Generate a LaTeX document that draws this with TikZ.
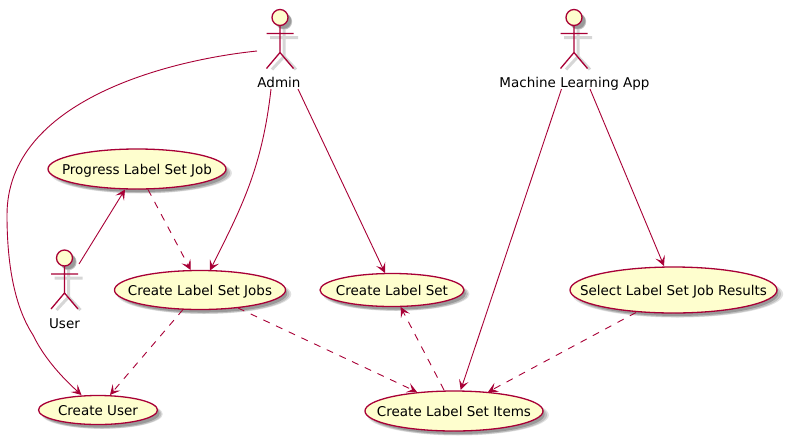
\documentclass[tikz,border=0pt]{standalone}
\usepackage{fontspec}
\setmainfont{DejaVu Sans}
\usetikzlibrary{shapes.geometric,arrows.meta,shadows}
\definecolor{umlline}{HTML}{A80036}
\definecolor{umlfill}{HTML}{FEFECE}
\tikzset{
  softshadow/.style={
    general shadow={shadow xshift=4pt,shadow yshift=-4pt,shadow scale=1.02,fill=black,opacity=.12},
    general shadow={shadow xshift=4pt,shadow yshift=-4pt,shadow scale=1.0,fill=black,opacity=.15},
    general shadow={shadow xshift=3.5pt,shadow yshift=-3.5pt,shadow scale=.98,fill=black,opacity=.2}},
  usetext/.style={font=\fontsize{13.5}{15}\selectfont,text=black,inner sep=0pt,text height=13pt,text depth=3pt},
  usecase/.style={shape=ellipse,draw=umlline,fill=umlfill,line width=1.3pt,inner sep=0pt,softshadow},
  actorlabel/.style={usetext},
  head/.style={shape=circle,draw=umlline,fill=umlfill,line width=1.3pt,minimum size=16pt,inner sep=0pt,softshadow},
  edge/.style={draw=umlline,line width=.9pt,-{Stealth[length=10pt,width=10pt,inset=4.5pt,umlline]}},
  dashedge/.style={edge,dash pattern=on 7pt off 7pt},
  stick/.style={draw=umlline,line width=1.3pt},
  stickshadow/.style={draw=black!16,line width=3pt},
  actor/.pic={
    \draw[stickshadow] (-10,20) -- (18,20) (4,12) -- (4,39) -- (-8,52) (4,39) -- (16,52);
    \node[head] (-head) at (0,0) {};
    \draw[stick] (-13.5,16) -- (13.5,16) (0,8) -- (0,35) (-13.5,51) -- (0,35) -- (13.5,51);
  }
}
\begin{document}
\begin{tikzpicture}[x=1pt,y=-1pt]
\useasboundingbox (0,0) rectangle (787,440);
\pic (admin) at (280,17.5) {actor};
\pic (usr) at (64.5,258) {actor};
\pic (ml) at (574,17.5) {actor};
\node[actorlabel] (adminlabel) at (279,82) {Admin};
\node[actorlabel] (userlabel) at (64.5,323) {User};
\node[actorlabel] (mllabel) at (574.5,82) {Machine Learning App};
\node[usecase,minimum width=178pt,minimum height=40pt,label={[usetext]center:Progress Label Set Job}] (progress) at (137,169) {};
\node[usecase,minimum width=171pt,minimum height=39pt,label={[usetext]center:Create Label Set Jobs}] (jobs) at (200,290) {};
\node[usecase,minimum width=119pt,minimum height=29pt,label={[usetext]center:Create User}] (createuser) at (98,410) {};
\node[usecase,minimum width=144pt,minimum height=33pt,label={[usetext]center:Create Label Set}] (labelset) at (392,290) {};
\node[usecase,minimum width=207pt,minimum height=46pt,label={[usetext]center:Select Label Set Job Results}] (select) at (673.5,290) {};
\node[usecase,minimum width=178pt,minimum height=40pt,label={[usetext]center:Create Label Set Items}] (items) at (454,411) {};
% solid connectors
\draw[edge] ([shift={(-22,-31)}]adminlabel.center) .. controls (170,60) and (7,100) .. (7,215)
  .. controls (7,280) and (20,315) .. (33,335) .. controls (45,360) and (65,380) .. ([shift={(-16.5,-15)}]createuser.center);
\draw[edge] ([shift={(-8,7)}]adminlabel.center) .. controls (262,170) and (240,210) .. ([shift={(10,-19.5)}]jobs.center);
\draw[edge] ([shift={(19,7)}]adminlabel.center) -- ([shift={(-7,-17)}]labelset.center);
\draw[edge] ([shift={(-13,7)}]mllabel.center) -- ([shift={(6.7,-21)}]items.center);
\draw[edge] ([shift={(15.5,7)}]mllabel.center) -- ([shift={(-9.5,-24)}]select.center);
\draw[edge] ([shift={(14.5,-59)}]userlabel.center) -- ([shift={(-12,20.5)}]progress.center);
% dashed connectors
\draw[dashedge] ([shift={(11,20.5)}]progress.center) -- ([shift={(-9.3,-20)}]jobs.center);
\draw[dashedge] ([shift={(-17,19.5)}]jobs.center) -- ([shift={(12,-15)}]createuser.center);
\draw[dashedge] ([shift={(38,18)}]jobs.center) -- ([shift={(-37,-19)}]items.center);
\draw[dashedge] ([shift={(-10,-21)}]items.center) -- ([shift={(8.7,17)}]labelset.center);
\draw[dashedge] ([shift={(-37.5,22.5)}]select.center) -- ([shift={(34,-19)}]items.center);
\end{tikzpicture}
\end{document}
